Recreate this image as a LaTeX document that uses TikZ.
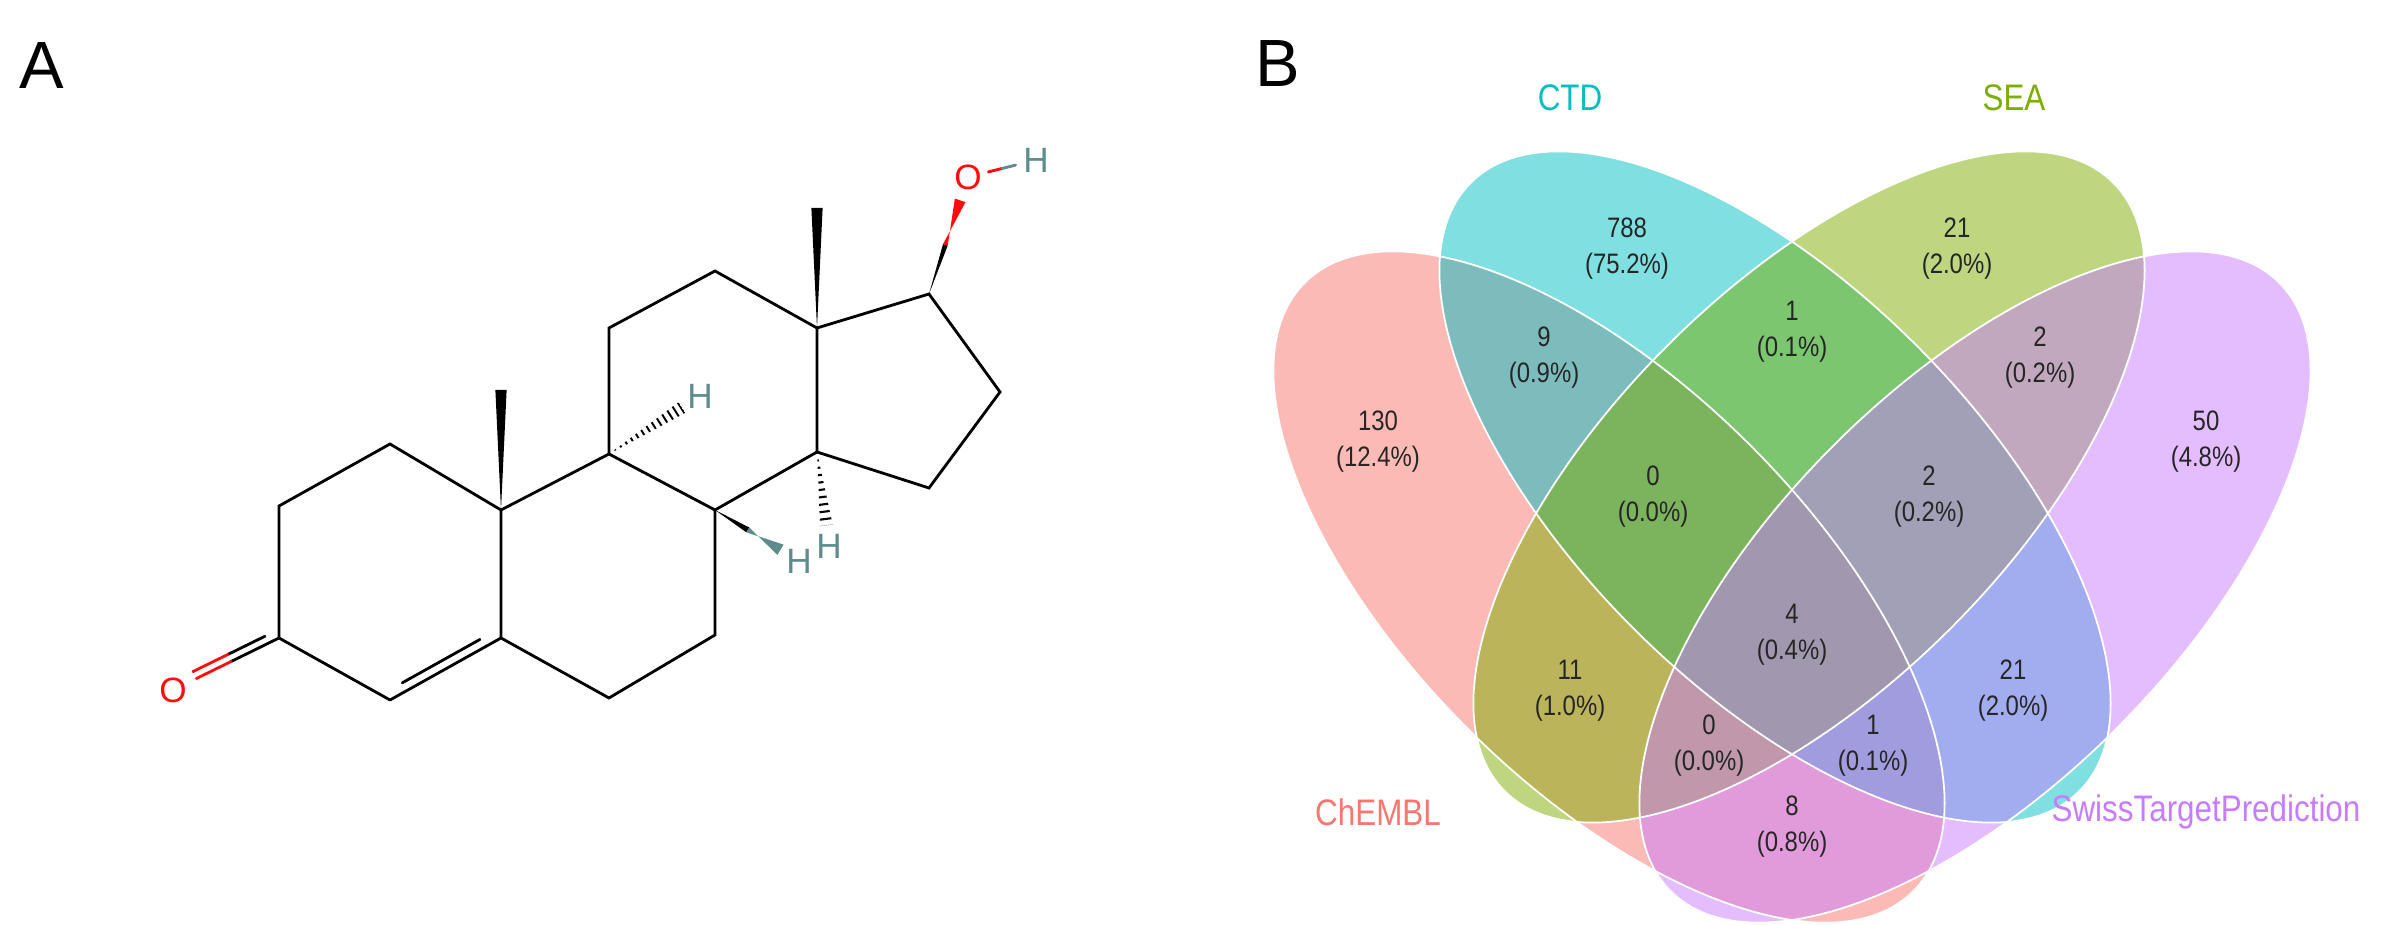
\documentclass[tikz,border=0pt]{standalone}
\usepackage{fontspec}
\setmainfont{Liberation Sans}
\newfontfamily\vf[FakeStretch=0.85]{Liberation Sans}
\usetikzlibrary{calc}
\definecolor{cA}{HTML}{F8766D}
\definecolor{cB}{HTML}{00BFC4}
\definecolor{cC}{HTML}{7CAE00}
\definecolor{cD}{HTML}{C77CFF}
\definecolor{hcol}{HTML}{5E8C8C}
\definecolor{ored}{HTML}{FF0D0D}
\begin{document}
\begin{tikzpicture}[x=0.01cm,y=-0.01cm,
  bond/.style={line width=0.8pt,line cap=round},
  num/.style={font=\vf\fontsize{8}{10.2}\selectfont,align=center,text=black!85},
  set/.style={font=\vf\fontsize{10.5}{12}\selectfont},
  atom/.style={font=\fontsize{10}{12}\selectfont,inner sep=0pt},
  panel/.style={font=\fontsize{19}{22}\selectfont}]
\useasboundingbox (0,0) rectangle (2384,925);
% ---------------- panel labels
\node[panel] (lA) at (42,66) {A};
\node[panel] (lB) at (1278,64) {B};
% ---------------- molecule
\coordinate (C3) at (279,638);
\coordinate (C4) at (390,700);
\coordinate (C5) at (501,638);
\coordinate (C10) at (501,510);
\coordinate (C1) at (390,444);
\coordinate (C2) at (279,506);
\coordinate (Me10) at (501,390);
\coordinate (C9) at (609,454);
\coordinate (C11) at (609,328);
\coordinate (C12) at (715,271);
\coordinate (C13) at (817,328);
\coordinate (Me13) at (817,208);
\coordinate (C8) at (715,510);
\coordinate (C7) at (715,635);
\coordinate (C6) at (609,698);
\coordinate (C14) at (817,452);
\coordinate (C15) at (929,488);
\coordinate (C16) at (1000,392);
\coordinate (C17) at (929,294);
\node[atom,text=ored] (O3) at (173,690) {O};
\node[atom,text=ored] (O17) at (968,177) {O};
\node[atom,text=hcol] (H17) at (1036,160) {H};
\node[atom,text=hcol] (H9) at (700,396) {H};
\node[atom,text=hcol] (H8) at (799,561) {H};
\node[atom,text=hcol] (H14) at (829,546) {H};
\draw[bond] (C3)--(C2)--(C1)--(C10)--(C5)--(C6)--(C7)--(C8)--(C9)--(C10);
\draw[bond] (C4)--(C3);
\draw[bond] (C4)--(C5);
\draw[bond] ($(C4)!0.15!(C5)!9pt*0.2845!90:(C5)$) -- ($(C5)!0.15!(C4)!9pt*0.2845!-90:(C4)$);
\draw[bond] (C9)--(C11)--(C12)--(C13)--(C14)--(C8);
\draw[bond] (C14)--(C15)--(C16)--(C17)--(C13);
% C=O
\coordinate (Oe) at ($(C3)!0.78!(O3)$);
\coordinate (Om) at ($(C3)!0.45!(O3)$);
\draw[bond] (C3)--(Om);
\draw[bond,ored] (Om)--(Oe);
\draw[bond] ($(C3)!0.1!(O3)!2.2pt!-90:(O3)$) -- ($(Om)!2.2pt!-90:(O3)$);
\draw[bond,ored] ($(Om)!2.2pt!-90:(O3)$) -- ($(Oe)!2.2pt!-90:(O3)$);
% methyl wedges
\fill (C10) -- ($(Me10)!1.6pt!90:(C10)$) -- ($(Me10)!1.6pt!-90:(C10)$) -- cycle;
\fill (C13) -- ($(Me13)!1.6pt!90:(C13)$) -- ($(Me13)!1.6pt!-90:(C13)$) -- cycle;
% OH wedge
\coordinate (Wm) at ($(C17)!0.42!(O17)$);
\coordinate (We) at ($(C17)!0.80!(O17)$);
\fill (C17) -- ($(Wm)!0.7pt!90:(C17)$) -- ($(Wm)!0.7pt!-90:(C17)$) -- cycle;
\fill[ored] ($(Wm)!0.7pt!90:(C17)$) -- ($(We)!1.6pt!-90:(C17)$) -- ($(We)!1.6pt!90:(C17)$) -- ($(Wm)!0.7pt!-90:(C17)$) -- cycle;
\draw[bond,ored] ($(O17)!0.3!(H17)$) -- ($(O17)!0.5!(H17)$);
\draw[bond,hcol] ($(O17)!0.5!(H17)$) -- ($(O17)!0.7!(H17)$);
% H8 bold wedge
\coordinate (H8e) at ($(C8)!0.78!(H8)$);
\fill[black] (C8) -- ($($(C8)!0.5!(H8e)$)!0.8pt!90:(C8)$) -- ($($(C8)!0.5!(H8e)$)!0.8pt!-90:(C8)$) -- cycle;
\fill[hcol] ($($(C8)!0.5!(H8e)$)!0.8pt!90:(C8)$) -- ($(H8e)!1.7pt!-90:(C8)$) -- ($(H8e)!1.7pt!90:(C8)$) -- ($($(C8)!0.5!(H8e)$)!0.8pt!-90:(C8)$) -- cycle;
% hashed wedges
\coordinate (H9e) at ($(C9)!0.8!(H9)$);
\begin{scope}
\clip (C9) -- ($(H9e)!1.8pt!90:(C9)$) -- ($(H9e)!1.8pt!-90:(C9)$) -- cycle;
\draw[line width=5pt,dash pattern=on 0.55pt off 1.3pt] (C9)--(H9e);
\end{scope}
\coordinate (H14e) at ($(C14)!0.78!(H14)$);
\begin{scope}
\clip (C14) -- ($(H14e)!1.8pt!90:(C14)$) -- ($(H14e)!1.8pt!-90:(C14)$) -- cycle;
\draw[line width=5pt,dash pattern=on 0.6pt off 1.5pt] (C14)--(H14e);
\end{scope}
% ---------------- Venn
\coordinate (eA) at (1609,587);
\coordinate (eB) at (1775,487);
\coordinate (eC) at (1809,487);
\coordinate (eD) at (1975,587);
\fill[cA,opacity=0.5,rotate around={-45:(eA)}] (eA) ellipse [x radius=4.3cm,y radius=2cm];
\fill[cB,opacity=0.5,rotate around={-45:(eB)}] (eB) ellipse [x radius=4.3cm,y radius=2cm];
\fill[cC,opacity=0.5,rotate around={45:(eC)}] (eC) ellipse [x radius=4.3cm,y radius=2cm];
\fill[cD,opacity=0.5,rotate around={45:(eD)}] (eD) ellipse [x radius=4.3cm,y radius=2cm];
\draw[white,line width=0.5pt,rotate around={-45:(eA)}] (eA) ellipse [x radius=4.3cm,y radius=2cm];
\draw[white,line width=0.5pt,rotate around={-45:(eB)}] (eB) ellipse [x radius=4.3cm,y radius=2cm];
\draw[white,line width=0.5pt,rotate around={45:(eC)}] (eC) ellipse [x radius=4.3cm,y radius=2cm];
\draw[white,line width=0.5pt,rotate around={45:(eD)}] (eD) ellipse [x radius=4.3cm,y radius=2cm];
\node[set,text=cB] (sB) at (1570,98) {CTD};
\node[set,text=cC] (sC) at (2014,98) {SEA};
\node[set,text=cA] (sA) at (1378,812) {ChEMBL};
\node[set,text=cD] (sD) at (2206,812) {SwissTargetPrediction};
\node[num] (n1) at (1627,249) {788\\(75.2\%)};
\node[num] (n2) at (1957,249) {21\\(2.0\%)};
\node[num] (n3) at (1544,358) {9\\(0.9\%)};
\node[num] (n4) at (1792,332) {1\\(0.1\%)};
\node[num] (n5) at (2040,358) {2\\(0.2\%)};
\node[num] (n6) at (1378,442) {130\\(12.4\%)};
\node[num] (n7) at (2206,442) {50\\(4.8\%)};
\node[num] (n8) at (1653,497) {0\\(0.0\%)};
\node[num] (n9) at (1929,497) {2\\(0.2\%)};
\node[num] (n10) at (1792,635) {4\\(0.4\%)};
\node[num] (n11) at (1570,691) {11\\(1.0\%)};
\node[num] (n12) at (2013,691) {21\\(2.0\%)};
\node[num] (n13) at (1709,746) {0\\(0.0\%)};
\node[num] (n14) at (1873,746) {1\\(0.1\%)};
\node[num] (n15) at (1792,827) {8\\(0.8\%)};
\end{tikzpicture}
\end{document}
